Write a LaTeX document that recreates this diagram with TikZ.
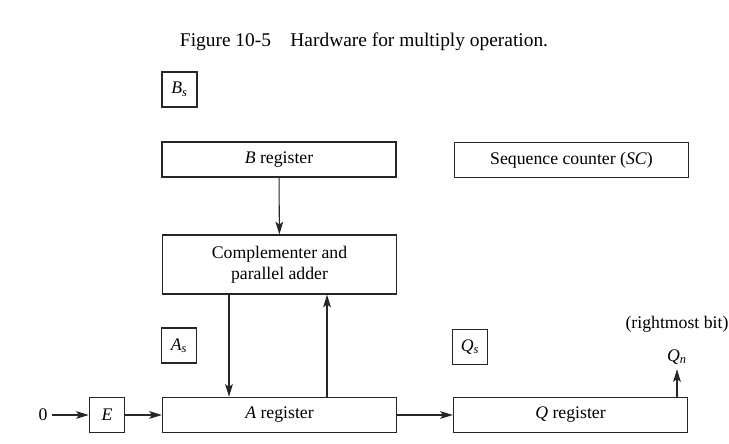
\documentclass[tikz,border=0pt]{standalone}
\usepackage{fontspec}
\setmainfont{Liberation Serif}
\usetikzlibrary{arrows.meta, positioning}

\begin{document}
\begin{tikzpicture}[
        x=0.025cm, y=-0.025cm,
        font=\fontsize{12.6}{15}\selectfont,
        >={Stealth[length=9pt, width=5.5pt, inset=2pt]},
        % styles
        regBlock/.style={rectangle, draw=black!85, line width=0.9pt, align=center, inner sep=2pt},
        wideReg/.style={regBlock, minimum width=5.85cm, minimum height=0.88cm},
        bitBox/.style={regBlock, minimum width=0.88cm, minimum height=0.88cm},
        conn/.style={->, line width=0.75pt, draw=black!85}
    ]
    \useasboundingbox (0,0) rectangle (729,444);

    % title
    \node [font=\fontsize{13.8}{16}\selectfont] (title) at (364,42) {Figure 10-5\quad Hardware for multiply operation.};

    % top row
    \node [bitBox] (bs) at (179.5,89.5) {\textit{B}\textsubscript{\textit{s}}};
    \node [wideReg] (breg) at (279,159.5) {\textit{B} register};
    \node [wideReg] (sc) at (571.5,160) {Sequence counter (\textit{SC})};

    % adder
    \node [wideReg, minimum height=1.475cm] (adder) at (279.5,264.5) {Complementer and\\parallel adder};

    % sign bits
    \node [bitBox] (as) at (179,345.5) {\textit{A}\textsubscript{\textit{s}}};
    \node [bitBox] (qs) at (470,347) {\textit{Q}\textsubscript{\textit{s}}};

    % bottom row
    \node (zero) at (43,415) {0};
    \node [bitBox] (e) at (107,415) {\textit{E}};
    \node [wideReg] (areg) at (279.5,415) {\textit{A} register};
    \node [wideReg] (qreg) at (570.5,415) {\textit{Q} register};

    % output bit
    \node (qn) at (677,357) {\textit{Q}\textsubscript{\textit{n}}};
    \node (rbit) at (677,324) {(rightmost bit)};

    % connections
    \coordinate (down) at (229,0);
    \coordinate (up) at (327,0);
    \draw [conn] (breg) -- (adder);
    \draw [conn] (adder.south -| down) -- (areg.north -| down);
    \draw [conn] (areg.north -| up) -- (adder.south -| up);
    \draw [conn] (zero) -- (e);
    \draw [conn] (e) -- (areg);
    \draw [conn] (areg) -- (qreg);
    \draw [conn] (qreg.north -| qn) -- (qn);

\end{tikzpicture}
\end{document}
